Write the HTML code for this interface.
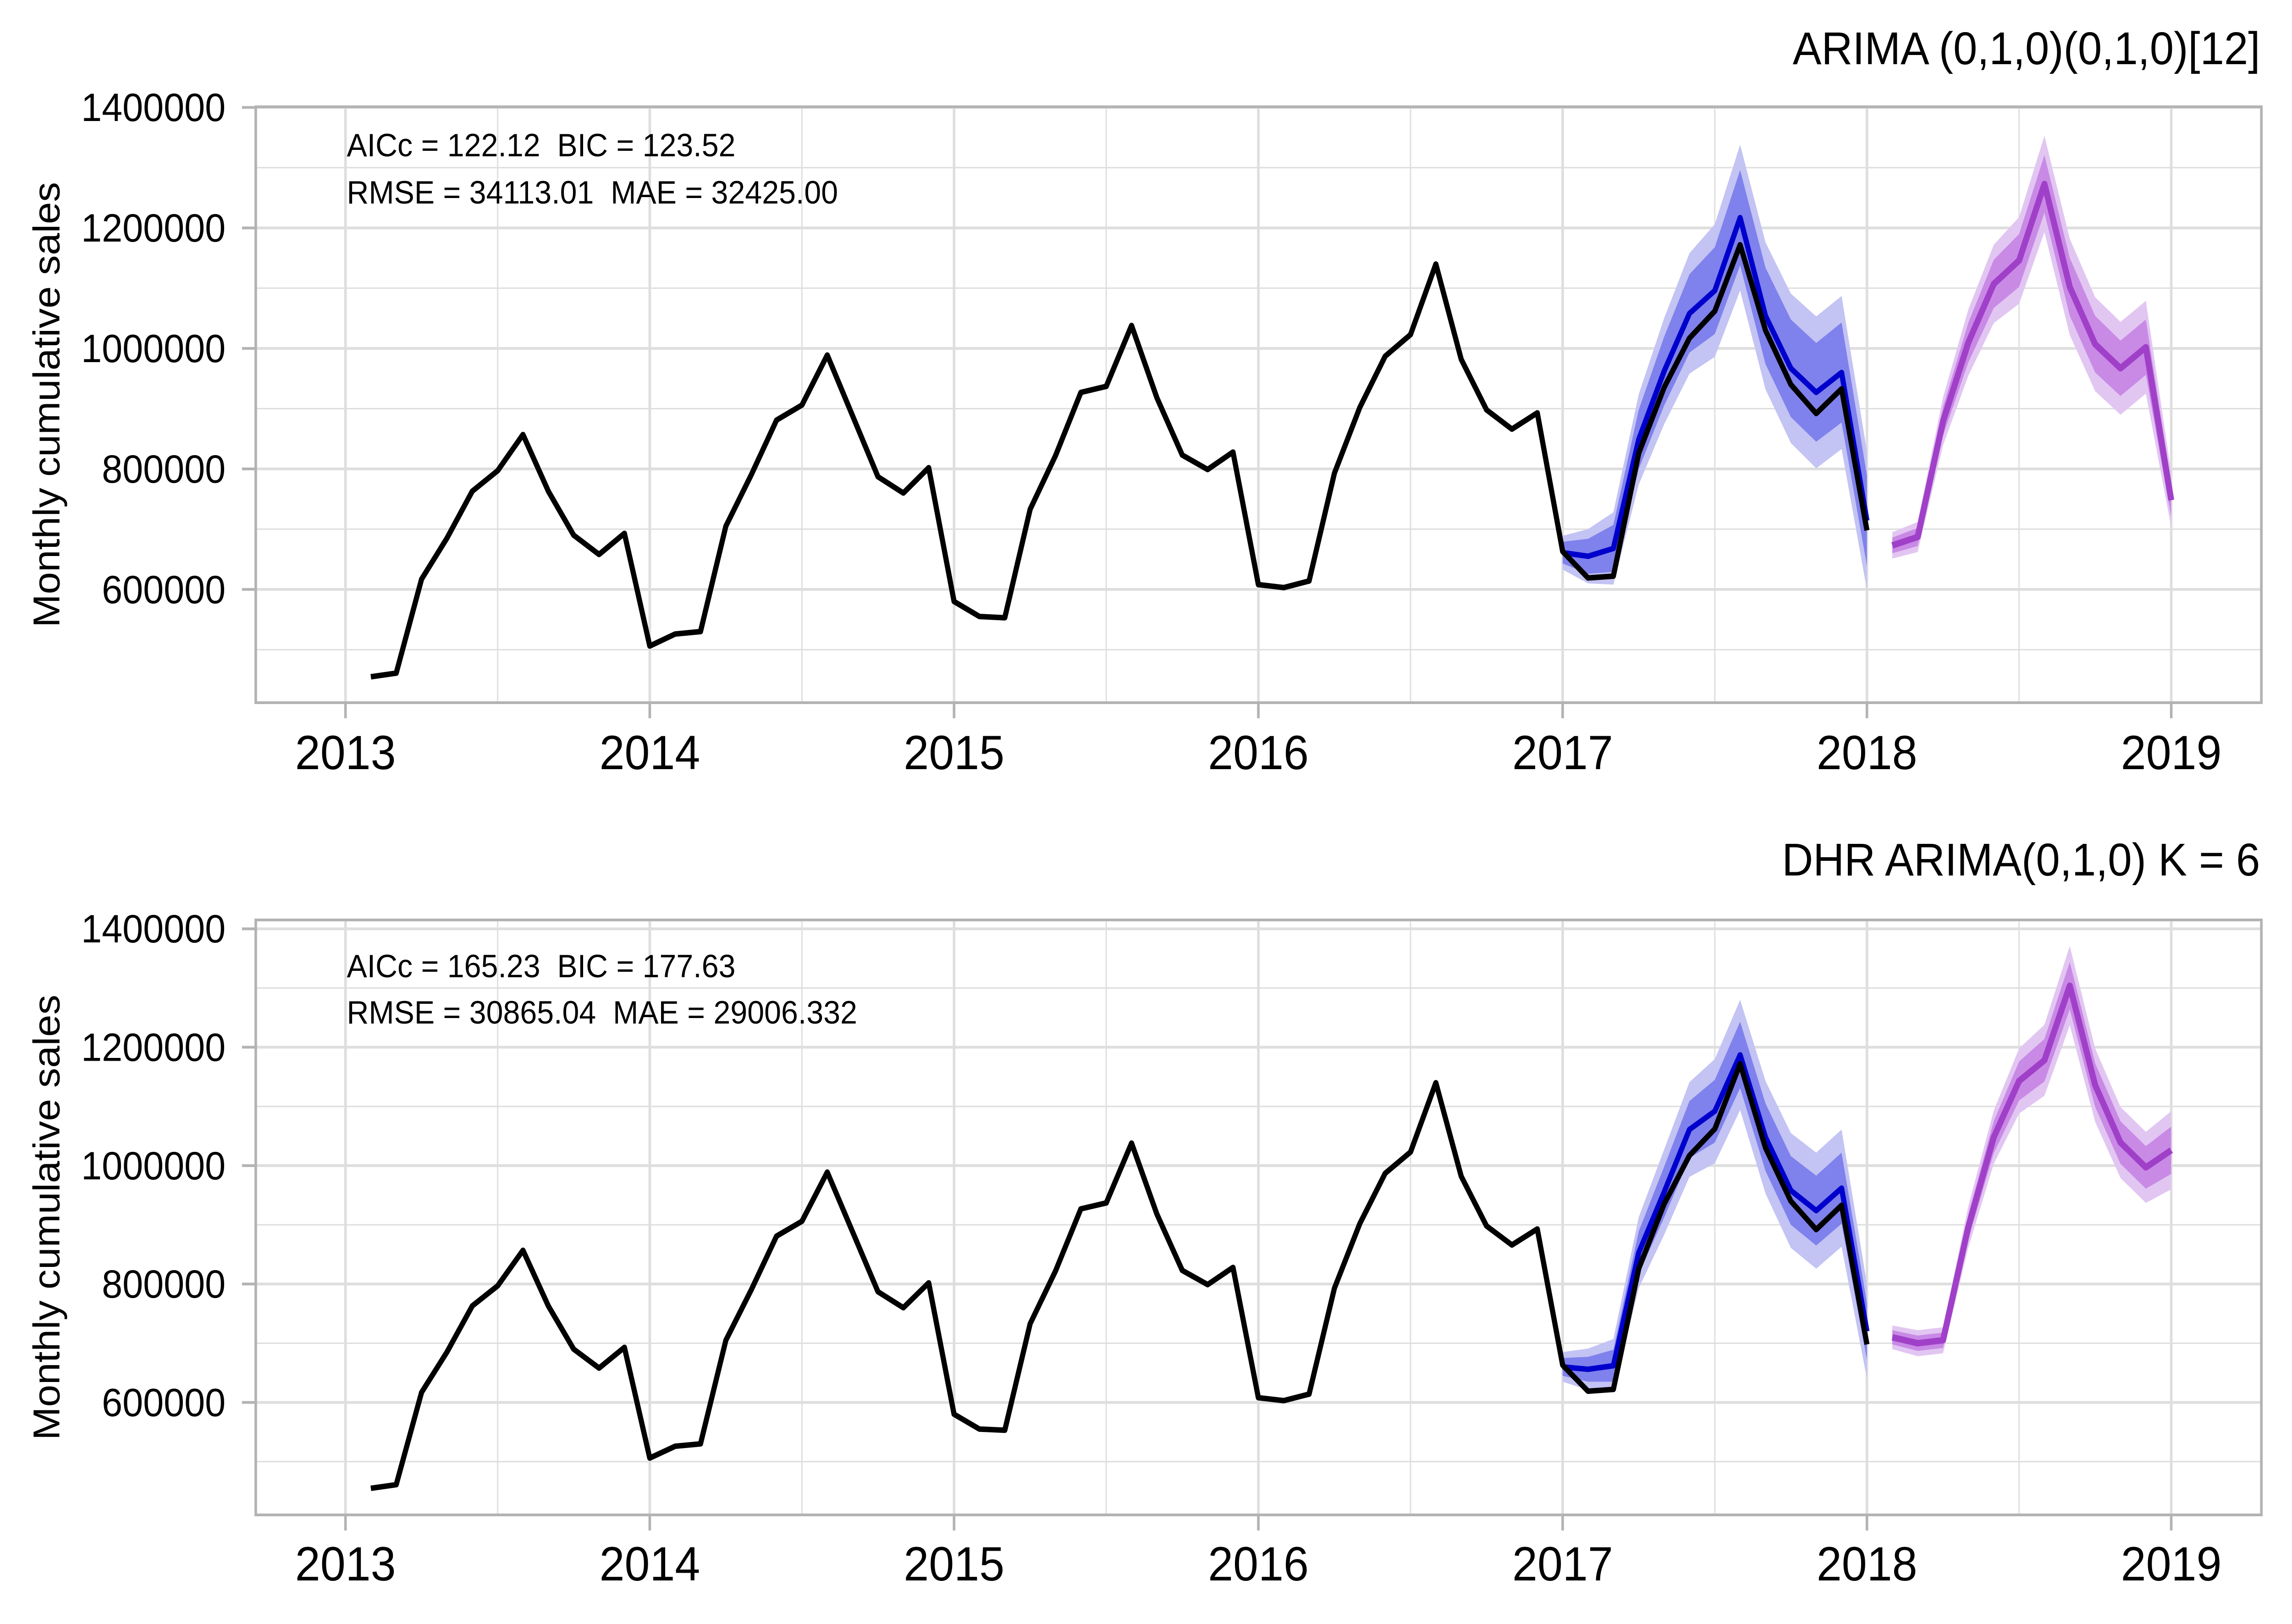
<!DOCTYPE html>
<html>
<head>
<meta charset="utf-8">
<style>
html,body{margin:0;padding:0;background:#fff;overflow:hidden;width:100%;height:100%;}
svg{display:block;width:100vw;height:100vh;}
text{font-family:"Liberation Sans",Arial,sans-serif;fill:#000;white-space:pre;}
</style>
</head>
<body>
<svg id="chart" viewBox="0 0 5314 3543" preserveAspectRatio="none" xmlns="http://www.w3.org/2000/svg" xml:space="preserve">
<rect x="0" y="0" width="5314" height="3543" fill="#fff"/>
</svg>
<script>
// ---------- data ----------
const actualStartMonth = 1; // months since Jan 2013
const actualValues = [455000,461000,617000,685000,763000,797000,857000,763000,690000,658000,693000,
506000,526000,530000,705000,790000,881000,906000,989000,888000,787000,760000,802000,
580000,555000,553000,733000,822000,927000,937000,1038000,918000,823000,799000,828000,
608000,603000,614000,793000,902000,987000,1023000,1140000,982000,898000,866000,893000,
663000,619000,622000,826000,935000,1017000,1062000,1172000,1030000,940000,892000,933000,
698000];
const p1FitStart = 48;
const p1FitMean = [661000,655000,668000,849000,962000,1058000,1096000,1217000,1054000,967000,927000,960000,714000];
const p1FitHw95 = [28000,45000,60000,75000,88000,100000,110000,121000,122000,124000,126000,127000,115000];
const p1FitHw80 = [18000,29000,39000,49000,57000,65000,72000,79000,80000,81000,82000,83000,75000];
const p1FcStart = 61;
const p1FcMean = [673000,687000,879000,1010000,1107000,1146000,1273000,1102000,1007000,967000,1002000,748000];
const p1FcHw95 = [22000,25000,40000,55000,65000,72000,80000,80000,78000,77000,77000,45000];
const p1FcHw80 = [13000,15000,24000,33000,40000,44000,48000,48000,47000,46000,46000,28000];
const p2FitStart = 48;
const p2FitMean = [660000,656000,662000,853000,955000,1061000,1092000,1187000,1048000,958000,924000,962000,720000];
const p2FitHw95 = [25000,35000,45000,60000,72000,80000,88000,93000,95000,97000,98000,99000,80000];
const p2FitHw80 = [15000,21000,27000,36000,43000,48000,53000,56000,57000,58000,59000,60000,48000];
const p2FcStart = 61;
const p2FcMean = [710000,700000,705000,897000,1048000,1143000,1178000,1304000,1136000,1039000,997000,1026000];
const p2FcHw95 = [20000,22000,22000,35000,45000,55000,60000,67000,62000,60000,60000,66000];
const p2FcHw80 = [12000,13000,13000,21000,27000,33000,36000,40000,37000,36000,36000,40000];
const yTickValues = [600000,800000,1000000,1200000,1400000];
const yTickLabels = ["600000","800000","1000000","1200000","1400000"];
const yMinorValues = [500000,700000,900000,1100000,1300000];
const xTickYears = [2013,2014,2015,2016,2017,2018,2019];
const xTickLabels = ["2013","2014","2015","2016","2017","2018","2019"];
const xMinorYears = [2013.5,2014.5,2015.5,2016.5,2017.5,2018.5];

// ---------- layout ----------
const NS = "http://www.w3.org/2000/svg";
const svg = document.getElementById('chart');
const PX0 = 593, PX1 = 5243;
const X2013 = 801, YEARW = 705.5;
function xScale(yearFrac){ return X2013 + (yearFrac - 2013) * YEARW; }
function xMonth(m){ return xScale(2013 + m/12); }

function mk(tag, attrs, parent){
  const e = document.createElementNS(NS, tag);
  for (const k in attrs) e.setAttribute(k, attrs[k]);
  (parent||svg).appendChild(e);
  return e;
}

const panels = [
  {top:233, bottom:1533, vmin:412000, vmax:1401000, title:"ARIMA (0,1,0)(0,1,0)[12]", titleY:140,
   ann1:"AICc = 122.12  BIC = 123.52", ann2:"RMSE = 34113.01  MAE = 32425.00", annY1:341, annY2:444, xlabY:1678,
   fitStart:p1FitStart, fitMean:p1FitMean, fitHw95:p1FitHw95, fitHw80:p1FitHw80,
   fcStart:p1FcStart, fcMean:p1FcMean, fcHw95:p1FcHw95, fcHw80:p1FcHw80},
  {top:2007, bottom:3305, vmin:410000, vmax:1415000, title:"DHR ARIMA(0,1,0) K = 6", titleY:1910,
   ann1:"AICc = 165.23  BIC = 177.63", ann2:"RMSE = 30865.04  MAE = 29006.332", annY1:2132, annY2:2233, xlabY:3448,
   fitStart:p2FitStart, fitMean:p2FitMean, fitHw95:p2FitHw95, fitHw80:p2FitHw80,
   fcStart:p2FcStart, fcMean:p2FcMean, fcHw95:p2FcHw95, fcHw80:p2FcHw80}
];

function bandPath(start, mean, hw, ys){
  const up = mean.map((v,i)=>xMonth(start+i).toFixed(1)+','+ys(v+hw[i]).toFixed(1));
  const lo = mean.map((v,i)=>xMonth(start+i).toFixed(1)+','+ys(v-hw[i]).toFixed(1)).reverse();
  return 'M' + up.join(' L') + ' L' + lo.join(' L') + ' Z';
}
function linePts(start, vals, ys){
  return vals.map((v,i)=>xMonth(start+i).toFixed(1)+','+ys(v).toFixed(1)).join(' ');
}

panels.forEach((p, pi) => {
  const g = mk('g', {});
  
  
  const ys = v => p.bottom - (v - p.vmin) / (p.vmax - p.vmin) * (p.bottom - p.top);
  const clipId = 'clip' + pi;
  const cp = mk('clipPath', {id:clipId}, g);
  mk('rect', {x:PX0, y:p.top, width:PX1-PX0, height:p.bottom-p.top}, cp);

  yMinorValues.forEach(v => {
    const l = mk('line', {x1:PX0, x2:PX1, y1:ys(v), y2:ys(v), stroke:'#dedede', 'stroke-width':3}, g);
    
    
  });
  xMinorYears.forEach(yr => {
    const l = mk('line', {x1:xScale(yr), x2:xScale(yr), y1:p.top, y2:p.bottom, stroke:'#dedede', 'stroke-width':3}, g);
    
    
  });
  yTickValues.forEach(v => {
    const y = ys(v);
    if (y < p.top - 1) return;
    const l = mk('line', {x1:PX0, x2:PX1, y1:y, y2:y, stroke:'#dedede', 'stroke-width':6}, g);
    
    
  });
  xTickYears.forEach(yr => {
    const l = mk('line', {x1:xScale(yr), x2:xScale(yr), y1:p.top, y2:p.bottom, stroke:'#dedede', 'stroke-width':6}, g);
    
    
  });

  const plot = mk('g', {'clip-path':'url(#'+clipId+')'}, g);
  
  

  const b95 = mk('path', {d:bandPath(p.fitStart, p.fitMean, p.fitHw95, ys), fill:'#c3c3f4'}, plot);
  
  
  const b80 = mk('path', {d:bandPath(p.fitStart, p.fitMean, p.fitHw80, ys), fill:'#7f81ec'}, plot);
  
  
  const bl = mk('polyline', {points:linePts(p.fitStart, p.fitMean, ys), fill:'none', stroke:'#0000cc', 'stroke-width':12, 'stroke-linejoin':'round'}, plot);
  
  

  const f95 = mk('path', {d:bandPath(p.fcStart, p.fcMean, p.fcHw95, ys), fill:'#e2c6f2'}, plot);
  
  
  const f80 = mk('path', {d:bandPath(p.fcStart, p.fcMean, p.fcHw80, ys), fill:'#c98ae6'}, plot);
  
  
  const fl = mk('polyline', {points:linePts(p.fcStart, p.fcMean, ys), fill:'none', stroke:'#a040c8', 'stroke-width':14, 'stroke-linejoin':'round'}, plot);
  
  

  const al = mk('polyline', {points:linePts(actualStartMonth, actualValues, ys), fill:'none', stroke:'#000', 'stroke-width':12, 'stroke-linejoin':'round'}, plot);
  
  

  const br = mk('rect', {x:PX0, y:p.top, width:PX1-PX0, height:p.bottom-p.top, fill:'none', stroke:'#b3b3b3', 'stroke-width':6}, g);
  
  

  yTickValues.forEach((v, i) => {
    const y = ys(v);
    const t = mk('line', {x1:PX0-32, x2:PX0, y1:y, y2:y, stroke:'#b3b3b3', 'stroke-width':6}, g);
    
    
    const tx = mk('text', {x:523, y:y, 'font-size':86, 'text-anchor':'end', 'dominant-baseline':'central'}, g);
    tx.textContent = yTickLabels[i];
    
    
  });
  xTickYears.forEach((yr, i) => {
    const x = xScale(yr);
    const t = mk('line', {x1:x, x2:x, y1:p.bottom, y2:p.bottom+34, stroke:'#b3b3b3', 'stroke-width':6}, g);
    
    
    const tx = mk('text', {x:x, y:p.xlabY, 'font-size':105, 'text-anchor':'middle'}, g);
    tx.textContent = xTickLabels[i];
    
    
  });
  const cy = (p.top + p.bottom) / 2;
  const yt = mk('text', {x:108, y:cy, 'font-size':87, 'text-anchor':'middle', 'dominant-baseline':'central', transform:'rotate(-90 108 '+cy+')'}, g);
  yt.textContent = 'Monthly cumulative sales';
  
  
  const tt = mk('text', {x:5240, y:p.titleY, 'font-size':100, 'text-anchor':'end'}, g);
  tt.textContent = p.title;
  
  
  const a1 = mk('text', {x:804, y:p.annY1, 'font-size':70.5}, g);
  a1.textContent = p.ann1;
  
  
  const a2 = mk('text', {x:804, y:p.annY2, 'font-size':70.5}, g);
  a2.textContent = p.ann2;
  
  
});
</script>
</body>
</html>
